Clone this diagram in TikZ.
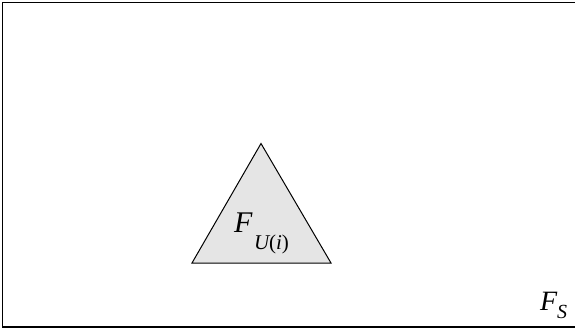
\documentclass[tikz,border=0pt]{standalone}
\usepackage{fontspec}
\setmainfont{Liberation Serif}
\begin{document}
\begin{tikzpicture}[x=1pt,y=-1pt,
  lbl/.style={anchor=base west, inner sep=0pt, outer sep=0pt}]
\useasboundingbox (0,0) rectangle (575,329);
\draw[line width=1.1pt] (2.5,2.5) rectangle (577,327);
\coordinate (top) at (261,143.5);
\coordinate (br) at (331,263);
\coordinate (bl) at (192,263);
\draw[line width=1pt, fill=black!10, line join=miter] (top) -- (br) -- (bl) -- cycle;
\node[lbl] (fu) at (234,232) {\fontsize{30}{30}\selectfont\itshape F};
\node[lbl] (fus) at (254,249) {\fontsize{21}{21}\selectfont\itshape U\upshape(\itshape i\upshape)};
\node[lbl] (fs) at (540,310) {\fontsize{28}{28}\selectfont\itshape F};
\node[lbl] (fss) at (557,318) {\fontsize{20}{20}\selectfont\itshape S};
\end{tikzpicture}
\end{document}
